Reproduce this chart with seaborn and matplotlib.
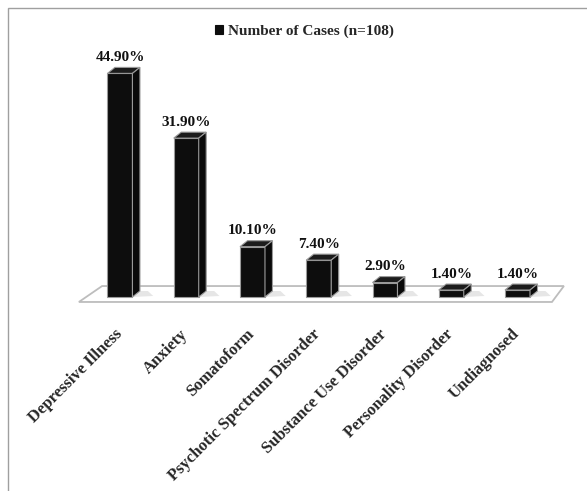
"""
Diagnosis distribution, 3D-look bar chart
"""

import matplotlib.pyplot as plt
import matplotlib.transforms as mtransforms
import pandas as pd
import seaborn as sns
from matplotlib.patches import Polygon, Rectangle

categories = [
    "Depressive Illness",
    "Anxiety",
    "Somatoform",
    "Psychotic Spectrum Disorder",
    "Substance Use Disorder",
    "Personality Disorder",
    "Undiagnosed",
]
percent = [44.9, 31.9, 10.1, 7.4, 2.9, 1.4, 1.4]
series_label = "Number of Cases (n=108)"

# fake depth of the bars, in data units
DX = 0.113
DY = 1.2
BAR_W = 0.377


def main():
    sns.set_theme(style="white")
    plt.rcParams["font.family"] = ["Liberation Serif", "DejaVu Serif"]
    plt.rcParams["font.weight"] = "bold"

    df = pd.DataFrame({"diagnosis": categories, "pct": percent})

    fig = plt.figure(figsize=(5.87, 4.91), dpi=100)
    ax = fig.add_axes([0.0915, 0.3444, 0.903, 0.6086])

    sns.barplot(
        data=df,
        x="diagnosis",
        y="pct",
        color="#0d0d0d",
        saturation=1,
        width=BAR_W,
        edgecolor="#9a9a9a",
        linewidth=0.8,
        label=series_label,
        zorder=3,
        ax=ax,
    )
    ax.set_xlim(-1, 7)
    ax.set_ylim(-5, 55)

    # floor plate
    n = len(categories)
    floor = Polygon(
        [(-0.62, -1.0), (n - 0.48, -1.0), (n - 0.30, 2.2), (-0.27, 2.2)],
        closed=True, facecolor="white", edgecolor="#bdbdbd", linewidth=1.3, zorder=1,
    )
    ax.add_patch(floor)

    for bar, val in zip(ax.patches[:n], percent):
        x0 = bar.get_x()
        x1 = x0 + bar.get_width()
        h = bar.get_height()
        # soft shadow on the floor
        ax.add_patch(Polygon(
            [(x1, 0), (x1 + DX + 0.2, 0.2), (x1 + DX + 0.12, DY), (x1 + DX, DY)],
            closed=True, facecolor="#e6e6e6", edgecolor="none", zorder=2,
        ))
        top = Polygon(
            [(x0, h), (x1, h), (x1 + DX, h + DY), (x0 + DX, h + DY)],
            closed=True, facecolor="#1c1c1c", edgecolor="#9a9a9a", linewidth=0.8, zorder=3,
        )
        side = Polygon(
            [(x1, 0), (x1 + DX, DY), (x1 + DX, h + DY), (x1, h)],
            closed=True, facecolor="#0a0a0a", edgecolor="#9a9a9a", linewidth=0.8, zorder=3,
        )
        ax.add_patch(top)
        ax.add_patch(side)
        ax.annotate(
            f"{val:.2f}%",
            xy=(bar.get_x() + bar.get_width() / 2, h + DY),
            xytext=(0, 2.5),
            textcoords="offset points",
            ha="center",
            va="bottom",
            fontsize=11,
            fontweight="bold",
            color="#111111",
        )

    ax.set_xlabel("")
    ax.set_ylabel("")
    ax.set_yticks([])
    ax.set_xticks(range(n))
    ax.set_xticklabels(
        categories, rotation=45, ha="right", va="top", rotation_mode="anchor",
        fontsize=12, fontweight="bold",
    )
    ax.tick_params(axis="x", length=0, pad=3)
    shift = mtransforms.ScaledTranslation(-0.06, 0, fig.dpi_scale_trans)
    for lab in ax.get_xticklabels():
        lab.set_transform(lab.get_transform() + shift)
    sns.despine(ax=ax, left=True, bottom=True)

    leg = ax.legend(
        loc="center",
        bbox_to_anchor=(304 / 587, 1 - 31 / 491),
        bbox_transform=fig.transFigure,
        frameon=False,
        handlelength=0.55,
        handleheight=0.55,
        handletextpad=0.3,
        prop={"size": 11, "weight": "bold"},
    )
    for h in leg.legend_handles:
        h.set_edgecolor("#0d0d0d")

    # chart frame
    fig.patches.append(Rectangle(
        (7.5 / 587, -0.2), 1.2, 1.2 - 8 / 491,
        transform=fig.transFigure, fill=False, edgecolor="#9f9f9f", linewidth=1.0,
    ))

    fig.savefig("out.png", dpi=100)


if __name__ == "__main__":
    main()
